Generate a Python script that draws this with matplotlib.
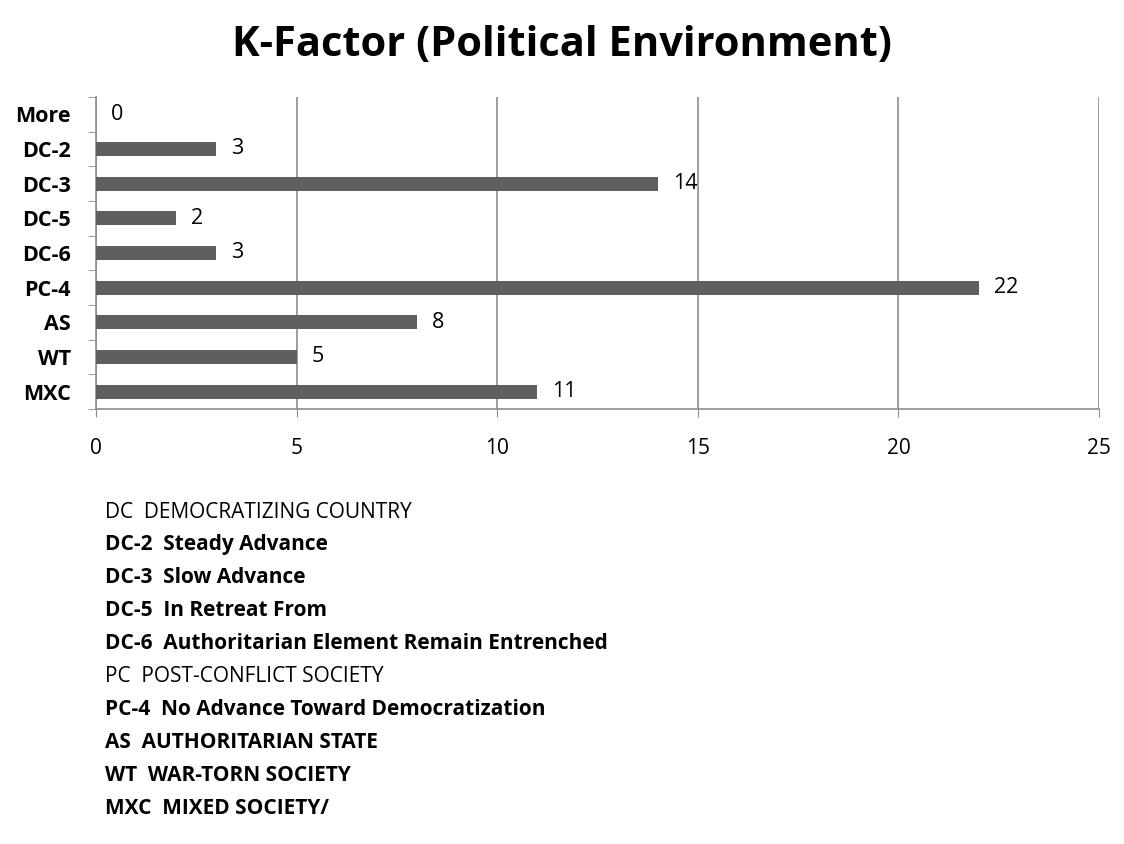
import matplotlib
matplotlib.use("Agg")
import matplotlib.pyplot as plt
from matplotlib.ticker import FixedLocator

categories = ["More", "DC-2", "DC-3", "DC-5", "DC-6", "PC-4", "AS", "WT", "MXC"]
counts = [0, 3, 14, 2, 3, 22, 8, 5, 11]
x_ticks = [0, 5, 10, 15, 20, 25]

legend_lines = [
    ("DC  DEMOCRATIZING COUNTRY", "normal"),
    ("DC-2  Steady Advance", "bold"),
    ("DC-3  Slow Advance", "bold"),
    ("DC-5  In Retreat From", "bold"),
    ("DC-6  Authoritarian Element Remain Entrenched", "bold"),
    ("PC  POST-CONFLICT SOCIETY", "normal"),
    ("PC-4  No Advance Toward Democratization", "bold"),
    ("AS  AUTHORITARIAN STATE", "bold"),
    ("WT  WAR-TORN SOCIETY", "bold"),
    ("MXC  MIXED SOCIETY/", "bold"),
]

plt.rcParams["font.family"] = ["Open Sans", "DejaVu Sans"]

W, H = 1124, 844
fig = plt.figure(figsize=(W / 100, H / 100), dpi=100)
ax = fig.add_axes([96 / W, 1 - 409 / H, (1099 - 96) / W, (409 - 97) / H])

pos = list(range(len(categories)))
ax.barh(pos, counts, height=0.41, color="#5f5f5f", zorder=3)
ax.set_ylim(len(categories) - 0.5, -0.5)
ax.set_xlim(0, 25)

grid_c = "#8c8c8c"
ax.xaxis.set_major_locator(FixedLocator(x_ticks))
ax.set_xticklabels([str(t) for t in x_ticks], fontsize=15)
ax.grid(axis="x", color=grid_c, linewidth=1.2, zorder=0)
ax.tick_params(axis="x", length=6, color=grid_c, pad=15, labelcolor="black")

ax.set_yticks(pos)
ax.set_yticklabels(categories, fontsize=15.5, fontweight="bold")
ax.yaxis.set_minor_locator(FixedLocator([p - 0.5 for p in pos] + [len(pos) - 0.5]))
ax.tick_params(axis="y", which="major", length=0, pad=18)
ax.tick_params(axis="y", which="minor", length=6, color=grid_c)

for side in ["top", "right"]:
    ax.spines[side].set_visible(False)
for side in ["left", "bottom"]:
    ax.spines[side].set_color(grid_c)
    ax.spines[side].set_linewidth(1.2)

for p, v in zip(pos, counts):
    ax.annotate(str(v), xy=(v, p), xytext=(15, 0), textcoords="offset pixels",
                va="center", ha="left", fontsize=15.5)

fig.text(562 / W, 1 - 45 / H, "K-Factor (Political Environment)", ha="center", va="center",
         fontsize=30, fontweight="bold")

y0 = 512
for i, (txt, wt) in enumerate(legend_lines):
    fig.text(105 / W, 1 - (y0 + i * 32.9) / H, txt, ha="left", va="center",
             fontsize=15, fontweight=wt)

fig.savefig("out.png", dpi=100, facecolor="white")
